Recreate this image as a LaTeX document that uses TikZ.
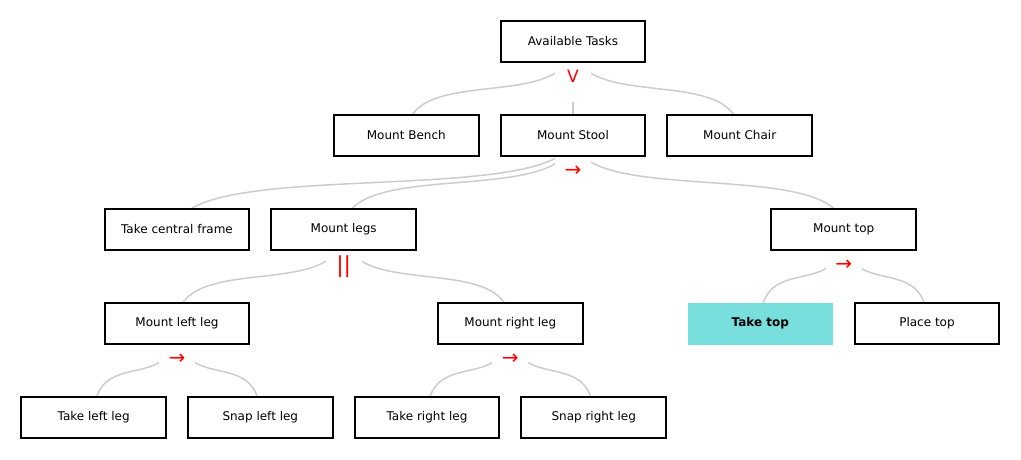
\documentclass[tikz,border=0pt]{standalone}
\usepackage{fontspec}
\setmainfont{DejaVu Sans}
\usetikzlibrary{backgrounds}
\definecolor{linkgray}{RGB}{204,204,204}
\definecolor{takecyan}{RGB}{120,223,221}
\definecolor{symred}{RGB}{255,0,0}
\newcommand{\branch}[2]{
    \draw[link] (#1.center) .. controls +(0,-75) and +(0,75) .. (#2.center);
}

\begin{document}
\begin{tikzpicture}[x=1pt,y=1pt,every node/.style={font=\fontsize{12}{14}\selectfont}]

\tikzstyle{task}=[draw,line width=2pt,fill=white,minimum width=144.5pt,minimum height=40.5pt,inner sep=0pt]
\tikzstyle{current}=[task,draw=takecyan,line width=0.5pt,fill=takecyan,font=\fontsize{12}{14}\selectfont\bfseries]
\tikzstyle{sym}=[fill=white,text=symred,inner sep=0pt,outer sep=0pt,minimum width=36pt,text height=20pt,text depth=19pt,anchor=north]
\tikzstyle{seq}=[sym,font=\fontsize{20}{22}\selectfont]
\tikzstyle{link}=[linkgray,line width=1.5pt]

\useasboundingbox (0,0) rectangle (1021,459);

% tasks, one row after the other
\node (avail) at (573,417.5) [task] {Available Tasks};

\node (bench) at (406.3,323.5) [task] {Mount Bench};
\node (stool) at (573,323.5) [task] {Mount Stool};
\node (chair) at (739.7,323.5) [task] {Mount Chair};

\node (frame) at (177,229.5) [task] {Take central frame};
\node (legs) at (343.7,229.5) [task] {Mount legs};
\node (mtop) at (843.7,229.5) [task] {Mount top};

\node (leftleg) at (177,135.5) [task] {Mount left leg};
\node (rightleg) at (510.3,135.5) [task] {Mount right leg};
\node (taketop) at (760.3,135.5) [current] {Take top};
\node (placetop) at (927,135.5) [task] {Place top};

\node (takeleft) at (93.7,41.5) [task] {Take left leg};
\node (snapleft) at (260.3,41.5) [task] {Snap left leg};
\node (takeright) at (427,41.5) [task] {Take right leg};
\node (snapright) at (593.7,41.5) [task] {Snap right leg};

% operators under the parents
\node (availop) at (avail.south) [sym,font=\fontsize{17}{20}\selectfont] {V};
\node (stoolop) at (stool.south) [seq] {→};
\node (legsop) at (legs.south) [sym,text height=22pt,text depth=17pt,font=\fontsize{22}{24}\selectfont] {||};
\node (mtopop) at (mtop.south) [seq] {→};
\node (leftlegop) at (leftleg.south) [seq] {→};
\node (rightlegop) at (rightleg.south) [seq] {→};

% links
\begin{scope}[on background layer]
\foreach \p/\c in {avail/bench,avail/stool,avail/chair,stool/frame,stool/legs,stool/mtop,
    legs/leftleg,legs/rightleg,mtop/taketop,mtop/placetop,
    leftleg/takeleft,leftleg/snapleft,rightleg/takeright,rightleg/snapright} {
    \branch{\p}{\c}
}
\end{scope}
\end{tikzpicture}
\end{document}
